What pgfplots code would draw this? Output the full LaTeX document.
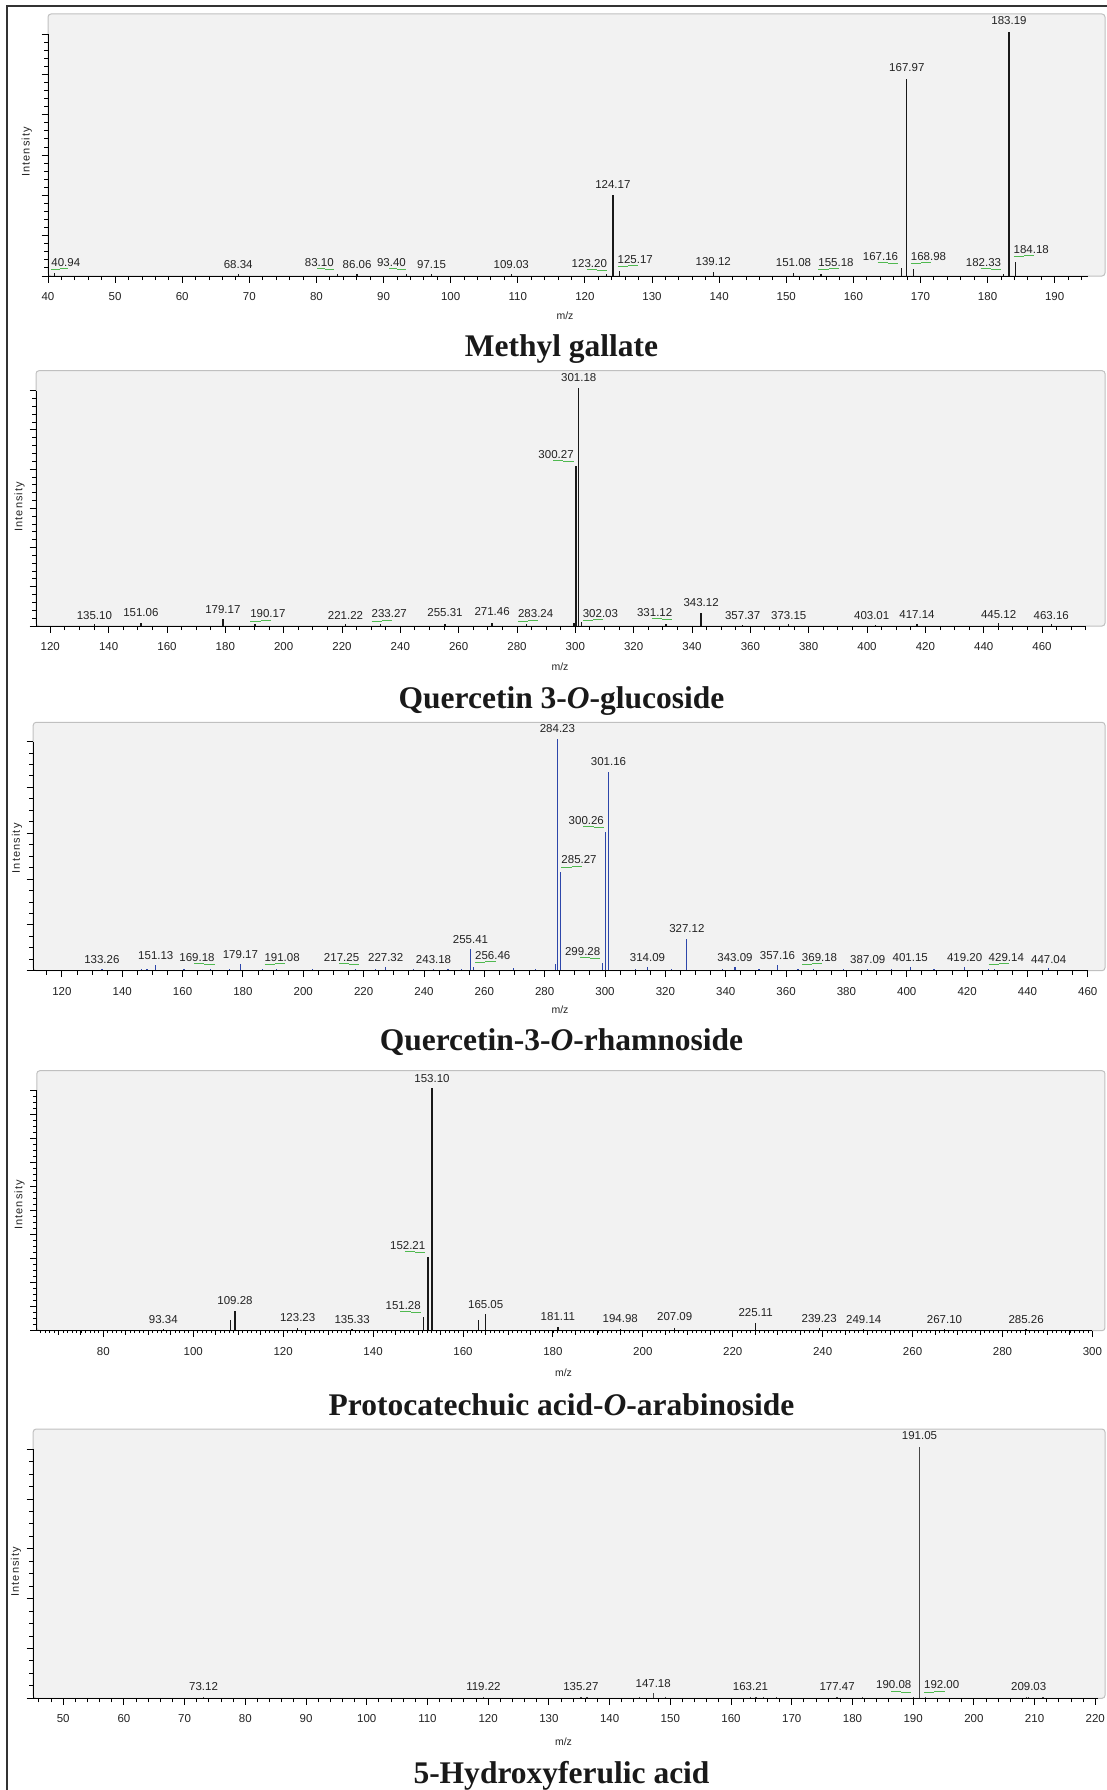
\documentclass[border=0pt]{standalone}
\usepackage{pgfplots}
\usepackage{pgfplotstable}
\pgfplotsset{compat=1.18}
\usepackage{fontspec}
\setmainfont{Liberation Sans}
\newfontfamily\titlefont{Liberation Serif}
\newfontfamily\axlabfont[LetterSpace=10]{Liberation Sans}

\definecolor{panelbg}{RGB}{242,242,242}
\definecolor{panelframe}{RGB}{192,192,192}
\definecolor{leadgreen}{RGB}{80,185,80}
\definecolor{stickblack}{RGB}{25,25,25}
\definecolor{stickblue}{RGB}{45,70,170}
\definecolor{stickgray}{RGB}{70,70,70}
\definecolor{labtext}{RGB}{35,35,35}

% peak labels; a short green leader under the side that faces the peak
\newdimen\leadlen
\newcommand\mzfmt{\pgfmathprintnumber[fixed,fixed zerofill,precision=2]{\pgfplotspointmeta}}
\newcommand\mzlabL[1]{\setbox0=\hbox{#1}\leadlen=0.29\wd0\relax
  \rlap{\color{leadgreen}\rule[-3.8pt]{\leadlen}{1pt}\rule[-2.8pt]{\leadlen}{1pt}}\box0}
\newcommand\mzlabR[1]{\setbox0=\hbox{#1}\leadlen=0.29\wd0\relax
  \box0\llap{\color{leadgreen}\rule[-2.8pt]{\leadlen}{1pt}\rule[-3.8pt]{\leadlen}{1pt}}}

\pgfplotsset{
  spectrum/.style={
    scale only axis, clip=false,
    axis lines=left, axis line style={draw=none},
    axis background/.style={fill=panelbg, draw=panelframe, line width=1pt, rounded corners=3pt},
    ymin=0, tick align=outside,
    major tick length=6.5pt, minor tick length=4pt,
    tick style={black, line width=0.9pt},
    yticklabels={},
    /pgf/number format/assume math mode=true,
    xticklabel style={font=\fontsize{11.5}{13}\selectfont, text=labtext, anchor=center, yshift=-14pt},
    every node near coord/.append style={anchor=center, inner sep=0pt,
      font=\fontsize{11.5}{13}\selectfont, text=labtext},
  },
  sticks/.style={ycomb, draw=#1, line width=1.3pt, mark=none},
  labelbase/.style={draw=none, mark=none, point meta=explicit},
  labels plain/.style={labelbase, restrict expr to domain={\thisrow{g}}{0:0},
    nodes near coords={\mzfmt}},
  labels left/.style={labelbase, restrict expr to domain={\thisrow{g}}{1:1},
    nodes near coords={\mzlabL{\mzfmt}}},
  labels right/.style={labelbase, restrict expr to domain={\thisrow{g}}{2:2},
    nodes near coords={\mzlabR{\mzfmt}}},
}

% ---------------- Methyl gallate
\pgfplotstableread{
mz I
40.94 1.2
68.34 1.0
83.10 0.8
86.06 0.9
93.40 0.8
97.15 0.8
109.03 0.8
123.20 1.0
124.17 33.2
125.17 2.2
139.12 1.8
151.08 1.1
155.18 0.8
167.16 3.2
167.97 80.8
168.98 2.8
182.33 0.8
183.19 100
184.18 5.9
}\peaksA
\pgfplotstableread{
lx ly mz g
42.65 4.8 40.94 1
68.34 4.8 68.34 0
80.43 4.8 83.10 2
86.06 4.8 86.06 0
91.17 4.8 93.40 2
97.15 4.8 97.15 0
109.03 4.8 109.03 0
120.66 4.5 123.20 2
124.17 37.5 124.17 0
127.50 6.1 125.17 1
139.12 6.1 139.12 0
151.08 5.4 151.08 0
157.41 4.9 155.18 1
164.04 7.2 167.16 2
167.97 85.3 167.97 0
171.20 7.2 168.98 1
179.40 4.9 182.33 2
183.19 104.4 183.19 0
186.51 10.2 184.18 1
}\labelsA

% ---------------- Quercetin 3-O-glucoside
\pgfplotstableread{
mz I
135.10 0.8
151.06 1.4
179.17 2.8
190.17 0.8
221.22 0.8
233.27 0.8
255.31 0.8
271.46 1.3
283.24 0.8
299.50 1.4
300.27 67.3
301.18 100
302.03 1.5
331.12 0.8
343.12 5.6
357.37 0.6
373.15 0.8
403.01 0.6
417.14 1.0
445.12 1.2
463.16 0.8
}\peaksB
\pgfplotstableread{
lx ly mz g
135.10 4.3 135.10 0
151.06 5.6 151.06 0
179.17 7.0 179.17 0
194.60 4.3 190.17 1
221.22 4.3 221.22 0
236.20 4.3 233.27 1
255.31 5.6 255.31 0
271.46 5.9 271.46 0
286.40 4.3 283.24 1
293.40 71.5 300.27 2
301.18 104.6 301.18 0
308.60 4.6 302.03 1
327.20 5.0 331.12 2
343.12 10.0 343.12 0
357.37 4.3 357.37 0
373.15 4.3 373.15 0
401.60 4.3 403.01 0
417.14 5.0 417.14 0
445.12 5.0 445.12 0
463.16 4.3 463.16 0
}\labelsB

% ---------------- Quercetin-3-O-rhamnoside
\pgfplotstableread{
mz I
133.26 0.8
146.50 0.6
148.20 0.6
151.13 2.3
160.50 0.6
169.18 0.8
175.50 0.6
179.17 2.9
186.50 0.6
191.08 0.8
203.00 0.6
217.25 0.8
224.00 0.6
227.32 1.5
236.50 0.6
243.18 0.8
248.00 0.6
252.50 0.6
255.41 9.2
256.46 1.5
269.60 1.0
277.00 0.6
283.50 2.9
284.23 100
285.27 42.8
299.28 3.5
300.26 60.1
301.16 86.0
310.00 0.6
314.09 1.7
322.00 0.6
327.12 13.8
339.00 0.6
343.09 1.5
351.00 0.6
357.16 2.3
364.00 0.6
369.18 0.8
379.00 0.6
387.09 0.8
395.00 0.6
401.15 1.5
409.00 0.6
419.20 1.5
427.00 0.6
429.14 0.8
447.04 1.0
}\peaksC
\pgfplotstableread{
lx ly mz g
133.26 4.9 133.26 0
151.13 6.4 151.13 0
164.80 4.9 169.18 2
179.17 7.1 179.17 0
193.00 4.9 191.08 1
212.70 4.9 217.25 2
227.32 5.8 227.32 0
243.18 4.9 243.18 0
255.41 13.3 255.41 0
262.80 5.8 256.46 1
284.23 104.5 284.23 0
301.16 90.3 301.16 0
293.80 64.1 300.26 2
291.40 47.1 285.27 1
327.12 18.0 327.12 0
292.60 7.5 299.28 2
314.09 5.8 314.09 0
343.09 5.8 343.09 0
357.16 6.4 357.16 0
371.10 4.9 369.18 1
387.09 4.9 387.09 0
401.15 5.8 401.15 0
419.20 5.8 419.20 0
433.00 4.9 429.14 1
447.04 4.9 447.04 0
}\labelsC

% ---------------- Protocatechuic acid-O-arabinoside
\pgfplotstableread{
mz I
93.34 0.8
108.30 4.4
109.28 8.1
123.23 1.0
135.33 0.8
151.28 5.5
152.21 30.3
153.10 100
163.40 4.4
165.05 6.9
181.11 1.5
194.98 0.8
207.09 1.2
225.11 3.3
239.23 1.0
249.14 0.8
267.10 0.8
285.26 0.8
}\peaksD
\pgfplotstableread{
lx ly mz g
93.34 4.7 93.34 0
109.28 12.3 109.28 0
123.23 5.4 123.23 0
135.33 4.7 135.33 0
146.70 9.7 151.28 2
147.70 34.4 152.21 2
153.10 104.1 153.10 0
165.05 10.9 165.05 0
181.11 5.8 181.11 0
194.98 5.1 194.98 0
207.09 5.8 207.09 0
225.11 7.4 225.11 0
239.23 5.1 239.23 0
249.14 4.7 249.14 0
267.10 4.7 267.10 0
285.26 4.7 285.26 0
}\labelsD

% ---------------- 5-Hydroxyferulic acid
\pgfplotstableread{
mz I
73.12 0.6
119.22 0.6
135.27 0.6
136.30 0.5
144.90 0.5
147.18 2.0
149.20 0.5
163.21 0.6
164.10 0.5
165.40 0.5
167.50 0.5
177.47 0.6
181.60 0.5
190.08 0.6
191.05 100
192.00 0.6
208.70 0.5
209.03 0.6
211.40 0.5
}\peaksE
\pgfplotstableread{
lx ly mz g
73.12 4.6 73.12 0
119.22 4.6 119.22 0
135.27 4.6 135.27 0
147.18 6.0 147.18 0
163.21 4.6 163.21 0
177.47 4.6 177.47 0
186.80 4.6 190.08 2
191.05 104.3 191.05 0
194.70 4.6 192.00 1
209.03 4.6 209.03 0
}\labelsE

\begin{document}
\begin{tikzpicture}[x=1pt, y=1pt]
\useasboundingbox (0,0) rectangle (1107,-1790);
\draw[line width=1.2pt, black!80] (7,-1790) -- (7,-6) -- (1107,-6);

% ===== Methyl gallate
\begin{axis}[spectrum, at={(48pt,-276pt)}, anchor=south west,
  width=1057pt, height=262pt,
  xmin=40, xmax=197.5, ymax=107.2,
  xtick={40,50,...,190}, minor xtick={42,44,...,194},
  ytick={0,16.5,...,99}, minor y tick num=4]
  \addplot[sticks=stickblack] table[x=mz, y=I] \peaksA;
  \draw[black, line width=1pt] (axis cs:40,0) -- (axis cs:195,0);
  \draw[black, line width=1pt] (axis cs:40,0) -- (axis cs:40,99);
  \addplot[labels plain] table[x=lx, y=ly, meta=mz] \labelsA;
  \addplot[labels left] table[x=lx, y=ly, meta=mz] \labelsA;
  \addplot[labels right] table[x=lx, y=ly, meta=mz] \labelsA;
\end{axis}
\node[rotate=90, font=\axlabfont\fontsize{11}{12}\selectfont, text=labtext] at (26.8,-152) {Intensity};
\node[font=\fontsize{10.5}{12}\selectfont, text=labtext] at (565,-316) {m/z};
\node[anchor=base, font=\titlefont\bfseries\fontsize{31.5}{34}\selectfont, text=black!90] at (561.5,-356) {Methyl gallate};

% ===== Quercetin 3-O-glucoside
\begin{axis}[spectrum, at={(36pt,-626pt)}, anchor=south west,
  width=1069pt, height=255.3pt,
  xmin=115.1, xmax=481.6, ymax=107.4,
  xtick={120,140,...,460}, minor xtick={115,120,...,475},
  ytick={0,16.5,...,99}, minor y tick num=4]
  \addplot[sticks=stickblack] table[x=mz, y=I] \peaksB;
  \draw[black, line width=1pt] (axis cs:115.1,0) -- (axis cs:475,0);
  \draw[black, line width=1pt] (axis cs:115.1,0) -- (axis cs:115.1,99);
  \addplot[labels plain] table[x=lx, y=ly, meta=mz] \labelsB;
  \addplot[labels left] table[x=lx, y=ly, meta=mz] \labelsB;
  \addplot[labels right] table[x=lx, y=ly, meta=mz] \labelsB;
\end{axis}
\node[rotate=90, font=\axlabfont\fontsize{11}{12}\selectfont, text=labtext] at (19.6,-506.7) {Intensity};
\node[font=\fontsize{10.5}{12}\selectfont, text=labtext] at (560,-666.7) {m/z};
\node[anchor=base, font=\titlefont\bfseries\fontsize{31.5}{34}\selectfont, text=black!90] at (561.5,-708) {Quercetin 3-\textit{O}-glucoside};

% ===== Quercetin-3-O-rhamnoside
\begin{axis}[spectrum, at={(33.2pt,-970.7pt)}, anchor=south west,
  width=1071.8pt, height=248.4pt,
  xmin=110.5, xmax=465.7, ymax=107.3,
  xtick={120,140,...,460}, minor xtick={110,115,...,460},
  ytick={0,19.8,...,99}, minor y tick num=3]
  \addplot[sticks=stickblue] table[x=mz, y=I] \peaksC;
  \draw[black, line width=1pt] (axis cs:110.5,0) -- (axis cs:460,0);
  \draw[black, line width=1pt] (axis cs:110.5,0) -- (axis cs:110.5,99);
  \addplot[labels plain] table[x=lx, y=ly, meta=mz] \labelsC;
  \addplot[labels left] table[x=lx, y=ly, meta=mz] \labelsC;
  \addplot[labels right] table[x=lx, y=ly, meta=mz] \labelsC;
\end{axis}
\node[rotate=90, font=\axlabfont\fontsize{11}{12}\selectfont, text=labtext] at (17.1,-848.3) {Intensity};
\node[font=\fontsize{10.5}{12}\selectfont, text=labtext] at (560,-1010) {m/z};
\node[anchor=base, font=\titlefont\bfseries\fontsize{31.5}{34}\selectfont, text=black!90] at (561.5,-1050.7) {Quercetin-3-\textit{O}-rhamnoside};

% ===== Protocatechuic acid-O-arabinoside
\begin{axis}[spectrum, at={(36.8pt,-1330.7pt)}, anchor=south west,
  width=1068.2pt, height=260pt,
  xmin=65.2, xmax=302.8, ymax=107.3,
  xtick={80,100,...,300}, minor xtick={65,70,...,300},
  extra x ticks={66,67,...,300}, extra x tick labels={},
  extra x tick style={major tick length=2.5pt, tick style={line width=0.7pt}},
  ytick={0,9.9,...,99}, minor y tick num=3]
  \addplot[sticks=stickblack] table[x=mz, y=I] \peaksD;
  \draw[black, line width=1pt] (axis cs:65.2,0) -- (axis cs:300,0);
  \draw[black, line width=1pt] (axis cs:65.2,0) -- (axis cs:65.2,99);
  \addplot[labels plain] table[x=lx, y=ly, meta=mz] \labelsD;
  \addplot[labels right] table[x=lx, y=ly, meta=mz] \labelsD;
\end{axis}
\node[rotate=90, font=\axlabfont\fontsize{11}{12}\selectfont, text=labtext] at (19.6,-1205) {Intensity};
\node[font=\fontsize{10.5}{12}\selectfont, text=labtext] at (563.5,-1372.7) {m/z};
\node[anchor=base, font=\titlefont\bfseries\fontsize{31.5}{34}\selectfont, text=black!90] at (561.5,-1415) {Protocatechuic acid-\textit{O}-arabinoside};

% ===== 5-Hydroxyferulic acid
\begin{axis}[spectrum, at={(33.2pt,-1698.3pt)}, anchor=south west,
  width=1071.8pt, height=269.3pt,
  xmin=45.06, xmax=221.6, ymax=107.0,
  xtick={50,60,...,220}, minor xtick={46,48,...,220},
  ytick={0,19.8,...,99}, minor y tick num=3]
  \addplot[sticks=stickgray] table[x=mz, y=I] \peaksE;
  \draw[black, line width=1pt] (axis cs:45.06,0) -- (axis cs:220.5,0);
  \draw[black, line width=1pt] (axis cs:45.06,0) -- (axis cs:45.06,99);
  \addplot[labels plain] table[x=lx, y=ly, meta=mz] \labelsE;
  \addplot[labels left] table[x=lx, y=ly, meta=mz] \labelsE;
  \addplot[labels right] table[x=lx, y=ly, meta=mz] \labelsE;
\end{axis}
\node[rotate=90, font=\axlabfont\fontsize{11}{12}\selectfont, text=labtext] at (16,-1571.7) {Intensity};
\node[font=\fontsize{10.5}{12}\selectfont, text=labtext] at (563.5,-1741.7) {m/z};
\node[anchor=base, font=\titlefont\bfseries\fontsize{31.5}{34}\selectfont, text=black!90] at (561.5,-1783.3) {5-Hydroxyferulic acid};
\end{tikzpicture}
\end{document}
